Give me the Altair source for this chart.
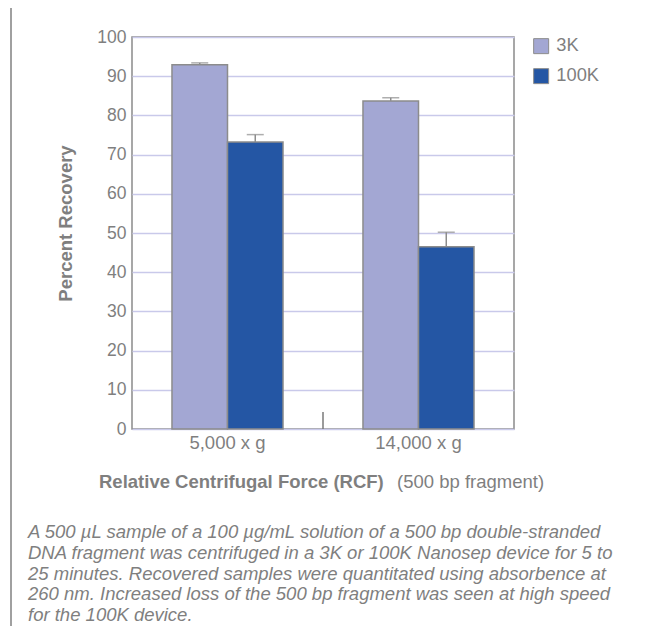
import altair as alt
import pandas as pd

forces = ["5,000 x g", "14,000 x g"]
series = ["3K", "100K"]
recovery_3k = [92.9, 83.7]
recovery_100k = [73.2, 46.5]
error_3k = [0.5, 0.8]
error_100k = [1.9, 3.7]
y_ticks = [0, 10, 20, 30, 40, 50, 60, 70, 80, 90, 100]
colors = ["#a3a7d3", "#2456a4"]

x_title_bold = "Relative Centrifugal Force (RCF)"
x_title_note = "(500 bp fragment)"
y_title = "Percent Recovery"
caption = [
    "A 500 \u00b5L sample of a 100 \u00b5g/mL solution of a 500 bp double-stranded",
    "DNA fragment was centrifuged in a 3K or 100K Nanosep device for 5 to",
    "25 minutes. Recovered samples were quantitated using absorbence at",
    "260 nm. Increased loss of the 500 bp fragment was seen at high speed",
    "for the 100K device.",
]

rows = []
for i, f in enumerate(forces):
    rows.append({"force": f, "series": "3K", "recovery": recovery_3k[i], "upper": recovery_3k[i] + error_3k[i]})
    rows.append({"force": f, "series": "100K", "recovery": recovery_100k[i], "upper": recovery_100k[i] + error_100k[i]})
df = pd.DataFrame(rows)

FONT = "Liberation Sans"
GRAY = "#7f7f7f"
LINE = "#8a8a8a"
W, H = 382, 392

base = alt.Chart(df).encode(
    x=alt.X("force:N", sort=forces, title=None,
            scale=alt.Scale(paddingInner=0, paddingOuter=0),
            axis=alt.Axis(labelAngle=0, labelFontSize=18.5, labelColor=GRAY, labelFont=FONT,
                          ticks=False, domain=False, labelPadding=4)),
    xOffset=alt.XOffset("series:N", sort=series,
                        scale=alt.Scale(paddingOuter=0.72, paddingInner=0)),
)

yscale = alt.Scale(domain=[0, 100], nice=False)
yaxis = alt.Axis(values=y_ticks, tickCount=11, labelFontSize=17.5, labelColor=GRAY, labelFont=FONT,
                 labelOverlap=False, labelFlush=False,
                 ticks=False, domain=False, labelPadding=6,
                 gridColor="#c9c9ea", gridWidth=1.5,
                 title=y_title, titleFont=FONT, titleFontSize=18.5, titleFontWeight="bold",
                 titleColor=GRAY, titleAngle=270, titleX=-57, titleY=186,
                 titleAlign="center", titleBaseline="bottom")

bars = base.mark_bar(stroke="#8c8c8c", strokeWidth=1.5).encode(
    y=alt.Y("recovery:Q", scale=yscale, axis=yaxis, title=y_title),
    color=alt.Color("series:N", sort=series,
                    scale=alt.Scale(domain=series, range=colors),
                    legend=alt.Legend(title=None, orient="none", legendX=400, legendY=0,
                                      symbolType="square", symbolSize=225,
                                      symbolStrokeColor="#8c8c8c", symbolStrokeWidth=1,
                                      symbolOpacity=1,
                                      labelFontSize=18.3, labelColor=GRAY, labelFont=FONT,
                                      rowPadding=10, labelOffset=6, padding=0)),
)

err = base.mark_rule(color="#8c8c8c", strokeWidth=1.5).encode(
    y=alt.Y("recovery:Q", scale=yscale, axis=yaxis, title=y_title), y2="upper:Q")
caps = base.mark_tick(color="#8c8c8c", thickness=1.5, size=17).encode(
    y=alt.Y("upper:Q", scale=yscale, axis=yaxis, title=y_title))

one = alt.Chart(pd.DataFrame({"k": [0]}))
mid_tick = one.mark_rule(color="#7a7a7a", strokeWidth=1.5).encode(
    x=alt.value(W / 2), y=alt.value(H - 17), y2=alt.value(H))
frame_top = one.mark_rule(color="#a0a0a0", strokeWidth=2).encode(
    x=alt.value(-122), x2=alt.value(W + 129), y=alt.value(-32))
frame_left = one.mark_rule(color="#a0a0a0", strokeWidth=2).encode(
    x=alt.value(-121), y=alt.value(-32), y2=alt.value(H + 197))

xt1 = one.mark_text(font=FONT, fontSize=18.5, fontWeight="bold", color=GRAY,
                    align="left", baseline="middle").encode(
    x=alt.value(-33), y=alt.value(445), text=alt.value(x_title_bold))
xt2 = one.mark_text(font=FONT, fontSize=18.5, color=GRAY,
                    align="left", baseline="middle").encode(
    x=alt.value(265), y=alt.value(445), text=alt.value(x_title_note))
cap = one.mark_text(font=FONT, fontSize=18.5, fontStyle="italic", color=GRAY,
                    align="left", baseline="middle", lineHeight=20.8).encode(
    x=alt.value(-104), y=alt.value(495), text=alt.value(caption))

chart = alt.layer(bars, err, caps, mid_tick, frame_top, frame_left, xt1, xt2, cap).properties(
    width=W, height=H,
    autosize=alt.AutoSizeParams(type="none"),
    padding={"left": 124, "top": 29, "right": 129, "bottom": 197},
).configure_view(stroke=LINE, strokeWidth=1.5)

chart.save("out.html", embed_options={"renderer": "svg", "actions": False})
